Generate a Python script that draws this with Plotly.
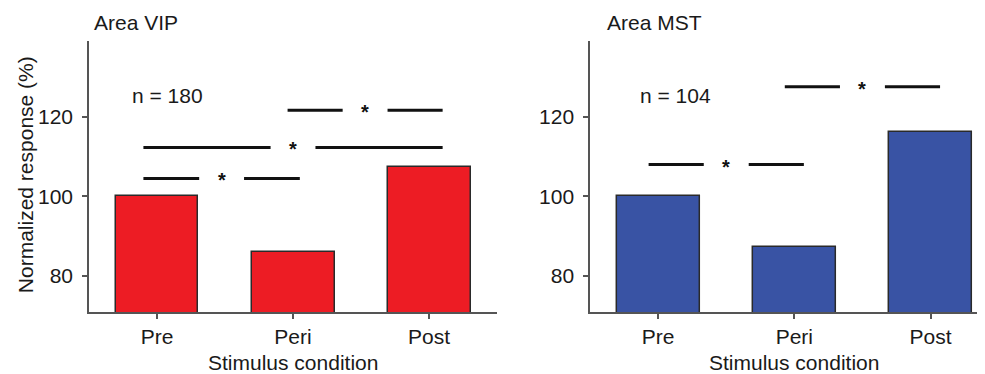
import plotly.graph_objects as go

# ---- data ----
categories = ["Pre", "Peri", "Post"]
vip_values = [100, 86, 107.5]
mst_values = [100, 87.2, 116.2]
y_ticks = [80, 100, 120]

# significance bars: y level, start, end (category index units)
vip_sig_y = [104.5, 112.3, 121.6]
vip_sig_start = [-0.10, -0.10, 0.96]
vip_sig_end = [1.05, 2.10, 2.10]
mst_sig_y = [108.0, 127.5]
mst_sig_start = [-0.07, 0.93]
mst_sig_end = [1.07, 2.07]

vip_n = "n = 180"
mst_n = "n = 104"
titles = ["Area VIP", "Area MST"]
x_title = "Stimulus condition"
y_title = "Normalized response (%)"

# ---- style ----
FONT = "Arial, 'Liberation Sans', sans-serif"
TXT = "#1a1a1a"
AX = "#555555"
FS = 21
GAP = 0.165

xpos = list(range(len(categories)))

fig = go.Figure()

fig.add_trace(go.Bar(x=xpos, y=vip_values, width=0.61,
                     marker=dict(color="#ED1C24", line=dict(color="#2a2a2a", width=1.5)),
                     xaxis="x", yaxis="y", showlegend=False))
fig.add_trace(go.Bar(x=xpos, y=mst_values, width=0.61,
                     marker=dict(color="#3953A4", line=dict(color="#2a2a2a", width=1.5)),
                     xaxis="x2", yaxis="y2", showlegend=False))

annotations = []


def add_sig(ys, starts, ends, xa, ya):
    for y, s, e in zip(ys, starts, ends):
        m = (s + e) / 2
        fig.add_trace(go.Scatter(x=[s, m - GAP, None, m + GAP, e], y=[y, y, None, y, y],
                                 mode="lines", line=dict(color="#111111", width=3),
                                 xaxis=xa, yaxis=ya, showlegend=False, hoverinfo="skip"))
        annotations.append(dict(x=m, y=y, xref=xa, yref=ya, text="<b>*</b>", showarrow=False,
                                font=dict(family=FONT, size=20, color="#111111"),
                                xanchor="center", yanchor="middle", yshift=-2))


add_sig(vip_sig_y, vip_sig_start, vip_sig_end, "x", "y")
add_sig(mst_sig_y, mst_sig_start, mst_sig_end, "x2", "y2")

annotations += [
    dict(x=-0.2, y=125.4, xref="x", yref="y", text=vip_n, showarrow=False,
         xanchor="left", yanchor="middle", font=dict(family=FONT, size=FS, color=TXT)),
    dict(x=-0.15, y=125.4, xref="x2", yref="y2", text=mst_n, showarrow=False,
         xanchor="left", yanchor="middle", font=dict(family=FONT, size=FS, color=TXT)),
    dict(x=0.0033, y=1.07, xref="paper", yref="paper", text=titles[0], showarrow=False,
         xanchor="left", yanchor="middle", font=dict(family=FONT, size=FS, color=TXT)),
    dict(x=0.576, y=1.07, xref="paper", yref="paper", text=titles[1], showarrow=False,
         xanchor="left", yanchor="middle", font=dict(family=FONT, size=FS, color=TXT)),
    dict(x=1, y=-0.187, xref="x", yref="paper", text=x_title, showarrow=False,
         xanchor="center", yanchor="middle", font=dict(family=FONT, size=FS, color=TXT)),
    dict(x=1, y=-0.187, xref="x2", yref="paper", text=x_title, showarrow=False,
         xanchor="center", yanchor="middle", font=dict(family=FONT, size=FS, color=TXT)),
    dict(x=-0.0714, y=0.505, xref="paper", yref="paper", text=y_title, showarrow=False,
         textangle=-90, xanchor="center", yanchor="middle",
         font=dict(family=FONT, size=FS, color=TXT)),
]

xaxis_common = dict(tickvals=xpos, ticktext=categories, showline=True, linecolor=AX, linewidth=1.5,
                    ticks="outside", ticklen=5, tickcolor=AX, tickwidth=1.5, showgrid=False,
                    zeroline=False, tickfont=dict(family=FONT, size=FS, color=TXT), fixedrange=True)
yaxis_common = dict(range=[71, 139], tickvals=y_ticks, showline=True, linecolor=AX, linewidth=1.5,
                    ticks="outside", ticklen=5, tickcolor=AX, tickwidth=1.5, showgrid=False,
                    zeroline=False, tickfont=dict(family=FONT, size=FS, color=TXT), fixedrange=True,
                    ticklabelstandoff=5)

# page body has an 8px margin, so the figure is 8px smaller and margins shifted
fig.update_layout(
    width=977, height=366, autosize=False,
    margin=dict(l=81, r=0, t=33, b=62),
    paper_bgcolor="white", plot_bgcolor="white",
    xaxis=dict(domain=[0, 0.4554], range=[-0.5, 2.5], anchor="y", **xaxis_common),
    yaxis=dict(domain=[0, 1], anchor="x", **yaxis_common),
    xaxis2=dict(domain=[0.5592, 1], range=[-0.5, 2.4], anchor="y2", **xaxis_common),
    yaxis2=dict(domain=[0, 1], anchor="x2", **yaxis_common),
    annotations=annotations,
    bargap=0,
)

fig.write_html("out.html")
